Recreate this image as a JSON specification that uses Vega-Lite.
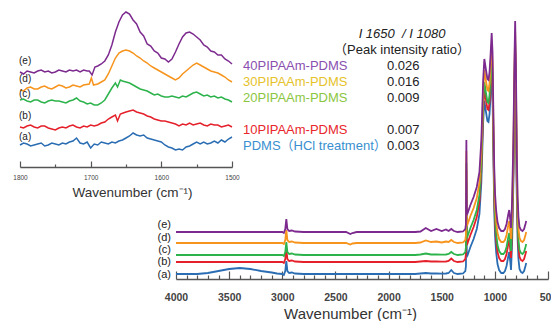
{
"$schema": "https://vega.github.io/schema/vega-lite/v6.json",
"width": 551, "height": 279,
"autosize": "none",
"padding": {"left": 0, "top": 0, "right": 0, "bottom": 42},
"background": "white",
"config": {"view": {"stroke": null}, "text": {"font": "Liberation Sans, Noto Sans CJK JP"}, "axis": {"labelFont": "Liberation Sans", "titleFont": "Liberation Sans", "grid": false}},
"datasets": {
"main": [
{"s":"a","wn":4000,"I":5},{"s":"a","wn":3800,"I":5},{"s":"a","wn":3700,"I":6},{"s":"a","wn":3600,"I":8},{"s":"a","wn":3500,"I":10},{"s":"a","wn":3400,"I":11},{"s":"a","wn":3300,"I":10},{"s":"a","wn":3200,"I":8},{"s":"a","wn":3100,"I":6.5},{"s":"a","wn":3050,"I":5.5},{"s":"a","wn":3000,"I":5},{"s":"a","wn":2985,"I":4},{"s":"a","wn":2972,"I":8},{"s":"a","wn":2962,"I":18},{"s":"a","wn":2952,"I":8},{"s":"a","wn":2935,"I":6},{"s":"a","wn":2910,"I":6.5},{"s":"a","wn":2880,"I":5.5},{"s":"a","wn":2800,"I":5},{"s":"a","wn":2400,"I":5},{"s":"a","wn":2300,"I":5},{"s":"a","wn":1750,"I":5},{"s":"a","wn":1700,"I":5.5},{"s":"a","wn":1650,"I":6},{"s":"a","wn":1600,"I":5.5},{"s":"a","wn":1550,"I":5.5},{"s":"a","wn":1500,"I":5.3},{"s":"a","wn":1460,"I":5.5},{"s":"a","wn":1435,"I":6},{"s":"a","wn":1410,"I":9},{"s":"a","wn":1385,"I":6},{"s":"a","wn":1350,"I":5},{"s":"a","wn":1300,"I":5.5},{"s":"a","wn":1278,"I":8},{"s":"a","wn":1272,"I":13},{"s":"a","wn":1268,"I":97},{"s":"a","wn":1264,"I":27},{"s":"a","wn":1256,"I":24},{"s":"a","wn":1230,"I":32},{"s":"a","wn":1200,"I":40},{"s":"a","wn":1170,"I":50},{"s":"a","wn":1145,"I":65},{"s":"a","wn":1127,"I":97},{"s":"a","wn":1110,"I":157},{"s":"a","wn":1099,"I":178},{"s":"a","wn":1085,"I":168},{"s":"a","wn":1070,"I":158},{"s":"a","wn":1060,"I":157},{"s":"a","wn":1050,"I":165},{"s":"a","wn":1040,"I":183},{"s":"a","wn":1030,"I":204},{"s":"a","wn":1022,"I":185},{"s":"a","wn":1014,"I":125},{"s":"a","wn":1006,"I":70},{"s":"a","wn":998,"I":43},{"s":"a","wn":988,"I":27},{"s":"a","wn":975,"I":15},{"s":"a","wn":960,"I":9},{"s":"a","wn":940,"I":6},{"s":"a","wn":920,"I":6},{"s":"a","wn":905,"I":8},{"s":"a","wn":890,"I":13},{"s":"a","wn":875,"I":22},{"s":"a","wn":865,"I":27},{"s":"a","wn":855,"I":17},{"s":"a","wn":848,"I":9},{"s":"a","wn":838,"I":35},{"s":"a","wn":826,"I":95},{"s":"a","wn":816,"I":175},{"s":"a","wn":809,"I":216},{"s":"a","wn":802,"I":175},{"s":"a","wn":794,"I":85},{"s":"a","wn":786,"I":40},{"s":"a","wn":778,"I":20},{"s":"a","wn":768,"I":10},{"s":"a","wn":755,"I":7},{"s":"a","wn":740,"I":6},{"s":"a","wn":725,"I":8},{"s":"a","wn":712,"I":13},{"s":"a","wn":705,"I":16},
{"s":"b","wn":4000,"I":17},{"s":"b","wn":3500,"I":17},{"s":"b","wn":3000,"I":17},{"s":"b","wn":2985,"I":16},{"s":"b","wn":2972,"I":20},{"s":"b","wn":2962,"I":30},{"s":"b","wn":2952,"I":20},{"s":"b","wn":2935,"I":18},{"s":"b","wn":2910,"I":18.5},{"s":"b","wn":2880,"I":17.5},{"s":"b","wn":2800,"I":17},{"s":"b","wn":2400,"I":17},{"s":"b","wn":2300,"I":17},{"s":"b","wn":1750,"I":17},{"s":"b","wn":1700,"I":17.5},{"s":"b","wn":1650,"I":18},{"s":"b","wn":1600,"I":17.5},{"s":"b","wn":1550,"I":17.5},{"s":"b","wn":1500,"I":17.3},{"s":"b","wn":1460,"I":17.5},{"s":"b","wn":1435,"I":18},{"s":"b","wn":1410,"I":20.5},{"s":"b","wn":1385,"I":18},{"s":"b","wn":1350,"I":17},{"s":"b","wn":1300,"I":17.5},{"s":"b","wn":1278,"I":20},{"s":"b","wn":1272,"I":25},{"s":"b","wn":1268,"I":109},{"s":"b","wn":1264,"I":39},{"s":"b","wn":1256,"I":36},{"s":"b","wn":1230,"I":44},{"s":"b","wn":1200,"I":52},{"s":"b","wn":1170,"I":62},{"s":"b","wn":1145,"I":77},{"s":"b","wn":1127,"I":109},{"s":"b","wn":1110,"I":169},{"s":"b","wn":1099,"I":190},{"s":"b","wn":1085,"I":180},{"s":"b","wn":1070,"I":170},{"s":"b","wn":1060,"I":169},{"s":"b","wn":1050,"I":177},{"s":"b","wn":1040,"I":195},{"s":"b","wn":1030,"I":216},{"s":"b","wn":1022,"I":197},{"s":"b","wn":1014,"I":137},{"s":"b","wn":1006,"I":82},{"s":"b","wn":998,"I":55},{"s":"b","wn":988,"I":39},{"s":"b","wn":975,"I":27},{"s":"b","wn":960,"I":21},{"s":"b","wn":940,"I":18},{"s":"b","wn":920,"I":18},{"s":"b","wn":905,"I":20},{"s":"b","wn":890,"I":25},{"s":"b","wn":875,"I":34},{"s":"b","wn":865,"I":39},{"s":"b","wn":855,"I":29},{"s":"b","wn":848,"I":21},{"s":"b","wn":838,"I":47},{"s":"b","wn":826,"I":107},{"s":"b","wn":816,"I":187},{"s":"b","wn":809,"I":228},{"s":"b","wn":802,"I":187},{"s":"b","wn":794,"I":97},{"s":"b","wn":786,"I":52},{"s":"b","wn":778,"I":32},{"s":"b","wn":768,"I":22},{"s":"b","wn":755,"I":19},{"s":"b","wn":740,"I":18},{"s":"b","wn":725,"I":20},{"s":"b","wn":712,"I":25},{"s":"b","wn":705,"I":28},
{"s":"c","wn":4000,"I":24},{"s":"c","wn":3500,"I":24},{"s":"c","wn":3000,"I":24},{"s":"c","wn":2985,"I":23},{"s":"c","wn":2972,"I":27},{"s":"c","wn":2962,"I":37},{"s":"c","wn":2952,"I":27},{"s":"c","wn":2935,"I":25},{"s":"c","wn":2910,"I":25.5},{"s":"c","wn":2880,"I":24.5},{"s":"c","wn":2800,"I":24},{"s":"c","wn":2400,"I":24},{"s":"c","wn":2300,"I":24},{"s":"c","wn":1750,"I":24},{"s":"c","wn":1700,"I":24.5},{"s":"c","wn":1650,"I":25.5},{"s":"c","wn":1600,"I":24.5},{"s":"c","wn":1550,"I":24.5},{"s":"c","wn":1500,"I":24.3},{"s":"c","wn":1460,"I":24.5},{"s":"c","wn":1435,"I":25},{"s":"c","wn":1410,"I":27},{"s":"c","wn":1385,"I":25},{"s":"c","wn":1350,"I":24},{"s":"c","wn":1300,"I":24.5},{"s":"c","wn":1278,"I":27},{"s":"c","wn":1272,"I":32},{"s":"c","wn":1268,"I":116},{"s":"c","wn":1264,"I":46},{"s":"c","wn":1256,"I":43},{"s":"c","wn":1230,"I":51},{"s":"c","wn":1200,"I":59},{"s":"c","wn":1170,"I":69},{"s":"c","wn":1145,"I":84},{"s":"c","wn":1127,"I":116},{"s":"c","wn":1110,"I":176},{"s":"c","wn":1099,"I":197},{"s":"c","wn":1085,"I":187},{"s":"c","wn":1070,"I":177},{"s":"c","wn":1060,"I":176},{"s":"c","wn":1050,"I":184},{"s":"c","wn":1040,"I":202},{"s":"c","wn":1030,"I":223},{"s":"c","wn":1022,"I":204},{"s":"c","wn":1014,"I":144},{"s":"c","wn":1006,"I":89},{"s":"c","wn":998,"I":62},{"s":"c","wn":988,"I":46},{"s":"c","wn":975,"I":34},{"s":"c","wn":960,"I":28},{"s":"c","wn":940,"I":25},{"s":"c","wn":920,"I":25},{"s":"c","wn":905,"I":27},{"s":"c","wn":890,"I":32},{"s":"c","wn":875,"I":41},{"s":"c","wn":865,"I":46},{"s":"c","wn":855,"I":36},{"s":"c","wn":848,"I":28},{"s":"c","wn":838,"I":54},{"s":"c","wn":826,"I":114},{"s":"c","wn":816,"I":194},{"s":"c","wn":809,"I":235},{"s":"c","wn":802,"I":194},{"s":"c","wn":794,"I":104},{"s":"c","wn":786,"I":59},{"s":"c","wn":778,"I":39},{"s":"c","wn":768,"I":29},{"s":"c","wn":755,"I":26},{"s":"c","wn":740,"I":25},{"s":"c","wn":725,"I":27},{"s":"c","wn":712,"I":32},{"s":"c","wn":705,"I":35},
{"s":"d","wn":4000,"I":36},{"s":"d","wn":3500,"I":36},{"s":"d","wn":3000,"I":36},{"s":"d","wn":2985,"I":35},{"s":"d","wn":2972,"I":39},{"s":"d","wn":2962,"I":49},{"s":"d","wn":2952,"I":39},{"s":"d","wn":2935,"I":37},{"s":"d","wn":2910,"I":37.5},{"s":"d","wn":2880,"I":36.5},{"s":"d","wn":2800,"I":36},{"s":"d","wn":2400,"I":36},{"s":"d","wn":2360,"I":34.5},{"s":"d","wn":2340,"I":35.5},{"s":"d","wn":2300,"I":36},{"s":"d","wn":1750,"I":36},{"s":"d","wn":1700,"I":36.5},{"s":"d","wn":1650,"I":38.5},{"s":"d","wn":1600,"I":37},{"s":"d","wn":1550,"I":37.5},{"s":"d","wn":1500,"I":36.5},{"s":"d","wn":1460,"I":37.5},{"s":"d","wn":1435,"I":37},{"s":"d","wn":1410,"I":39},{"s":"d","wn":1385,"I":37},{"s":"d","wn":1350,"I":36},{"s":"d","wn":1300,"I":36.5},{"s":"d","wn":1278,"I":39},{"s":"d","wn":1272,"I":44},{"s":"d","wn":1268,"I":128},{"s":"d","wn":1264,"I":58},{"s":"d","wn":1256,"I":55},{"s":"d","wn":1230,"I":63},{"s":"d","wn":1200,"I":71},{"s":"d","wn":1170,"I":81},{"s":"d","wn":1145,"I":96},{"s":"d","wn":1127,"I":128},{"s":"d","wn":1110,"I":188},{"s":"d","wn":1099,"I":209},{"s":"d","wn":1085,"I":199},{"s":"d","wn":1070,"I":189},{"s":"d","wn":1060,"I":188},{"s":"d","wn":1050,"I":196},{"s":"d","wn":1040,"I":214},{"s":"d","wn":1030,"I":235},{"s":"d","wn":1022,"I":216},{"s":"d","wn":1014,"I":156},{"s":"d","wn":1006,"I":101},{"s":"d","wn":998,"I":74},{"s":"d","wn":988,"I":58},{"s":"d","wn":975,"I":46},{"s":"d","wn":960,"I":40},{"s":"d","wn":940,"I":37},{"s":"d","wn":920,"I":37},{"s":"d","wn":905,"I":39},{"s":"d","wn":890,"I":44},{"s":"d","wn":875,"I":53},{"s":"d","wn":865,"I":58},{"s":"d","wn":855,"I":48},{"s":"d","wn":848,"I":40},{"s":"d","wn":838,"I":66},{"s":"d","wn":826,"I":126},{"s":"d","wn":816,"I":206},{"s":"d","wn":809,"I":247},{"s":"d","wn":802,"I":206},{"s":"d","wn":794,"I":116},{"s":"d","wn":786,"I":71},{"s":"d","wn":778,"I":51},{"s":"d","wn":768,"I":41},{"s":"d","wn":755,"I":38},{"s":"d","wn":740,"I":37},{"s":"d","wn":725,"I":39},{"s":"d","wn":712,"I":44},{"s":"d","wn":705,"I":47},
{"s":"e","wn":4000,"I":47},{"s":"e","wn":3500,"I":47},{"s":"e","wn":3000,"I":47},{"s":"e","wn":2985,"I":46},{"s":"e","wn":2972,"I":50},{"s":"e","wn":2962,"I":60},{"s":"e","wn":2952,"I":50},{"s":"e","wn":2935,"I":48},{"s":"e","wn":2910,"I":48.5},{"s":"e","wn":2880,"I":47.5},{"s":"e","wn":2800,"I":47},{"s":"e","wn":2400,"I":47},{"s":"e","wn":2360,"I":45},{"s":"e","wn":2340,"I":46},{"s":"e","wn":2300,"I":47},{"s":"e","wn":1750,"I":47},{"s":"e","wn":1700,"I":47.5},{"s":"e","wn":1650,"I":51},{"s":"e","wn":1600,"I":48},{"s":"e","wn":1550,"I":50},{"s":"e","wn":1500,"I":48},{"s":"e","wn":1460,"I":49.5},{"s":"e","wn":1435,"I":48},{"s":"e","wn":1410,"I":50},{"s":"e","wn":1385,"I":48},{"s":"e","wn":1350,"I":47},{"s":"e","wn":1300,"I":47.5},{"s":"e","wn":1278,"I":50},{"s":"e","wn":1272,"I":55},{"s":"e","wn":1268,"I":139},{"s":"e","wn":1264,"I":69},{"s":"e","wn":1256,"I":66},{"s":"e","wn":1230,"I":74},{"s":"e","wn":1200,"I":82},{"s":"e","wn":1170,"I":92},{"s":"e","wn":1145,"I":107},{"s":"e","wn":1127,"I":139},{"s":"e","wn":1110,"I":199},{"s":"e","wn":1099,"I":220},{"s":"e","wn":1085,"I":210},{"s":"e","wn":1070,"I":200},{"s":"e","wn":1060,"I":199},{"s":"e","wn":1050,"I":207},{"s":"e","wn":1040,"I":225},{"s":"e","wn":1030,"I":246},{"s":"e","wn":1022,"I":227},{"s":"e","wn":1014,"I":167},{"s":"e","wn":1006,"I":112},{"s":"e","wn":998,"I":85},{"s":"e","wn":988,"I":69},{"s":"e","wn":975,"I":57},{"s":"e","wn":960,"I":51},{"s":"e","wn":940,"I":48},{"s":"e","wn":920,"I":48},{"s":"e","wn":905,"I":50},{"s":"e","wn":890,"I":55},{"s":"e","wn":875,"I":64},{"s":"e","wn":865,"I":69},{"s":"e","wn":855,"I":59},{"s":"e","wn":848,"I":51},{"s":"e","wn":838,"I":77},{"s":"e","wn":826,"I":137},{"s":"e","wn":816,"I":217},{"s":"e","wn":809,"I":258},{"s":"e","wn":802,"I":217},{"s":"e","wn":794,"I":127},{"s":"e","wn":786,"I":82},{"s":"e","wn":778,"I":62},{"s":"e","wn":768,"I":52},{"s":"e","wn":755,"I":49},{"s":"e","wn":740,"I":48},{"s":"e","wn":725,"I":50},{"s":"e","wn":712,"I":55},{"s":"e","wn":705,"I":58}
],
"mainlab": [
{"s":"e","label":"(e)","wn":4000,"I":54},{"s":"d","label":"(d)","wn":4000,"I":41},{"s":"c","label":"(c)","wn":4000,"I":29},{"s":"b","label":"(b)","wn":4000,"I":17},{"s":"a","label":"(a)","wn":4000,"I":4}
],
"inset": [
{"s":"a","wn":1800,"I":22},{"s":"a","wn":1795,"I":24},{"s":"a","wn":1790,"I":23},{"s":"a","wn":1785,"I":21},{"s":"a","wn":1780,"I":22},{"s":"a","wn":1775,"I":23},{"s":"a","wn":1770,"I":24},{"s":"a","wn":1765,"I":21},{"s":"a","wn":1760,"I":22},{"s":"a","wn":1755,"I":24},{"s":"a","wn":1750,"I":23},{"s":"a","wn":1745,"I":22},{"s":"a","wn":1740,"I":24},{"s":"a","wn":1735,"I":23},{"s":"a","wn":1730,"I":25},{"s":"a","wn":1725,"I":26},{"s":"a","wn":1720,"I":29},{"s":"a","wn":1715,"I":24},{"s":"a","wn":1710,"I":23},{"s":"a","wn":1705,"I":25},{"s":"a","wn":1700,"I":19},{"s":"a","wn":1695,"I":23},{"s":"a","wn":1690,"I":22},{"s":"a","wn":1685,"I":25},{"s":"a","wn":1680,"I":24},{"s":"a","wn":1675,"I":23},{"s":"a","wn":1670,"I":25},{"s":"a","wn":1665,"I":24},{"s":"a","wn":1660,"I":26},{"s":"a","wn":1655,"I":27},{"s":"a","wn":1650,"I":29},{"s":"a","wn":1645,"I":31},{"s":"a","wn":1640,"I":34},{"s":"a","wn":1635,"I":32},{"s":"a","wn":1630,"I":31},{"s":"a","wn":1625,"I":32},{"s":"a","wn":1620,"I":29},{"s":"a","wn":1615,"I":28},{"s":"a","wn":1610,"I":27},{"s":"a","wn":1605,"I":26},{"s":"a","wn":1600,"I":25},{"s":"a","wn":1595,"I":22},{"s":"a","wn":1590,"I":20},{"s":"a","wn":1585,"I":19},{"s":"a","wn":1580,"I":17},{"s":"a","wn":1575,"I":18},{"s":"a","wn":1570,"I":17},{"s":"a","wn":1565,"I":20},{"s":"a","wn":1560,"I":21},{"s":"a","wn":1555,"I":23},{"s":"a","wn":1550,"I":25},{"s":"a","wn":1545,"I":23},{"s":"a","wn":1540,"I":25},{"s":"a","wn":1535,"I":23},{"s":"a","wn":1530,"I":24},{"s":"a","wn":1525,"I":26},{"s":"a","wn":1520,"I":24},{"s":"a","wn":1515,"I":27},{"s":"a","wn":1510,"I":25},{"s":"a","wn":1505,"I":28},{"s":"a","wn":1500,"I":30},
{"s":"b","wn":1800,"I":40},{"s":"b","wn":1795,"I":39},{"s":"b","wn":1790,"I":41},{"s":"b","wn":1785,"I":42},{"s":"b","wn":1780,"I":40},{"s":"b","wn":1775,"I":39},{"s":"b","wn":1770,"I":41},{"s":"b","wn":1765,"I":41},{"s":"b","wn":1760,"I":39},{"s":"b","wn":1755,"I":38},{"s":"b","wn":1750,"I":37},{"s":"b","wn":1745,"I":39},{"s":"b","wn":1740,"I":40},{"s":"b","wn":1735,"I":39},{"s":"b","wn":1730,"I":41},{"s":"b","wn":1725,"I":42},{"s":"b","wn":1720,"I":40},{"s":"b","wn":1715,"I":39},{"s":"b","wn":1710,"I":41},{"s":"b","wn":1705,"I":40},{"s":"b","wn":1700,"I":42},{"s":"b","wn":1695,"I":41},{"s":"b","wn":1690,"I":42},{"s":"b","wn":1685,"I":44},{"s":"b","wn":1680,"I":45},{"s":"b","wn":1675,"I":48},{"s":"b","wn":1670,"I":50},{"s":"b","wn":1665,"I":52},{"s":"b","wn":1662,"I":46},{"s":"b","wn":1658,"I":53},{"s":"b","wn":1654,"I":54},{"s":"b","wn":1650,"I":55},{"s":"b","wn":1645,"I":56},{"s":"b","wn":1640,"I":57},{"s":"b","wn":1635,"I":55},{"s":"b","wn":1630,"I":54},{"s":"b","wn":1625,"I":53},{"s":"b","wn":1620,"I":51},{"s":"b","wn":1615,"I":50},{"s":"b","wn":1610,"I":48},{"s":"b","wn":1605,"I":47},{"s":"b","wn":1600,"I":46},{"s":"b","wn":1595,"I":46},{"s":"b","wn":1590,"I":45},{"s":"b","wn":1585,"I":44},{"s":"b","wn":1580,"I":43},{"s":"b","wn":1575,"I":41},{"s":"b","wn":1570,"I":43},{"s":"b","wn":1565,"I":42},{"s":"b","wn":1560,"I":44},{"s":"b","wn":1555,"I":42},{"s":"b","wn":1550,"I":43},{"s":"b","wn":1545,"I":44},{"s":"b","wn":1540,"I":42},{"s":"b","wn":1535,"I":41},{"s":"b","wn":1530,"I":43},{"s":"b","wn":1525,"I":42},{"s":"b","wn":1520,"I":42},{"s":"b","wn":1515,"I":40},{"s":"b","wn":1510,"I":41},{"s":"b","wn":1505,"I":42},{"s":"b","wn":1500,"I":40},
{"s":"c","wn":1800,"I":67},{"s":"c","wn":1795,"I":68},{"s":"c","wn":1790,"I":66},{"s":"c","wn":1785,"I":65},{"s":"c","wn":1780,"I":67},{"s":"c","wn":1775,"I":67},{"s":"c","wn":1770,"I":65},{"s":"c","wn":1765,"I":64},{"s":"c","wn":1760,"I":66},{"s":"c","wn":1755,"I":67},{"s":"c","wn":1750,"I":66},{"s":"c","wn":1745,"I":66},{"s":"c","wn":1740,"I":65},{"s":"c","wn":1735,"I":64},{"s":"c","wn":1730,"I":66},{"s":"c","wn":1725,"I":67},{"s":"c","wn":1720,"I":69},{"s":"c","wn":1715,"I":66},{"s":"c","wn":1710,"I":65},{"s":"c","wn":1705,"I":63},{"s":"c","wn":1700,"I":64},{"s":"c","wn":1695,"I":62},{"s":"c","wn":1690,"I":62},{"s":"c","wn":1685,"I":64},{"s":"c","wn":1680,"I":67},{"s":"c","wn":1675,"I":73},{"s":"c","wn":1670,"I":79},{"s":"c","wn":1665,"I":84},{"s":"c","wn":1662,"I":80},{"s":"c","wn":1658,"I":87},{"s":"c","wn":1655,"I":86},{"s":"c","wn":1650,"I":85},{"s":"c","wn":1645,"I":84},{"s":"c","wn":1640,"I":82},{"s":"c","wn":1635,"I":80},{"s":"c","wn":1630,"I":78},{"s":"c","wn":1625,"I":77},{"s":"c","wn":1620,"I":76},{"s":"c","wn":1615,"I":74},{"s":"c","wn":1610,"I":72},{"s":"c","wn":1605,"I":73},{"s":"c","wn":1600,"I":71},{"s":"c","wn":1595,"I":70},{"s":"c","wn":1590,"I":70},{"s":"c","wn":1585,"I":71},{"s":"c","wn":1580,"I":70},{"s":"c","wn":1575,"I":69},{"s":"c","wn":1570,"I":71},{"s":"c","wn":1565,"I":70},{"s":"c","wn":1560,"I":72},{"s":"c","wn":1555,"I":74},{"s":"c","wn":1550,"I":75},{"s":"c","wn":1545,"I":73},{"s":"c","wn":1540,"I":71},{"s":"c","wn":1535,"I":72},{"s":"c","wn":1530,"I":70},{"s":"c","wn":1525,"I":71},{"s":"c","wn":1520,"I":69},{"s":"c","wn":1515,"I":70},{"s":"c","wn":1510,"I":68},{"s":"c","wn":1505,"I":67},{"s":"c","wn":1500,"I":65},
{"s":"d","wn":1800,"I":77},{"s":"d","wn":1795,"I":76},{"s":"d","wn":1790,"I":79},{"s":"d","wn":1785,"I":80},{"s":"d","wn":1780,"I":78},{"s":"d","wn":1775,"I":78},{"s":"d","wn":1770,"I":80},{"s":"d","wn":1765,"I":81},{"s":"d","wn":1760,"I":79},{"s":"d","wn":1755,"I":78},{"s":"d","wn":1750,"I":80},{"s":"d","wn":1745,"I":82},{"s":"d","wn":1740,"I":81},{"s":"d","wn":1735,"I":79},{"s":"d","wn":1730,"I":80},{"s":"d","wn":1725,"I":82},{"s":"d","wn":1720,"I":81},{"s":"d","wn":1715,"I":80},{"s":"d","wn":1710,"I":82},{"s":"d","wn":1702,"I":83},{"s":"d","wn":1699,"I":89},{"s":"d","wn":1696,"I":82},{"s":"d","wn":1690,"I":83},{"s":"d","wn":1685,"I":85},{"s":"d","wn":1680,"I":87},{"s":"d","wn":1675,"I":93},{"s":"d","wn":1670,"I":101},{"s":"d","wn":1665,"I":109},{"s":"d","wn":1660,"I":114},{"s":"d","wn":1655,"I":116},{"s":"d","wn":1650,"I":117},{"s":"d","wn":1645,"I":116},{"s":"d","wn":1640,"I":114},{"s":"d","wn":1635,"I":111},{"s":"d","wn":1630,"I":109},{"s":"d","wn":1625,"I":106},{"s":"d","wn":1620,"I":104},{"s":"d","wn":1615,"I":101},{"s":"d","wn":1610,"I":99},{"s":"d","wn":1605,"I":97},{"s":"d","wn":1600,"I":95},{"s":"d","wn":1595,"I":93},{"s":"d","wn":1590,"I":91},{"s":"d","wn":1585,"I":89},{"s":"d","wn":1580,"I":87},{"s":"d","wn":1575,"I":89},{"s":"d","wn":1570,"I":93},{"s":"d","wn":1565,"I":96},{"s":"d","wn":1560,"I":99},{"s":"d","wn":1555,"I":102},{"s":"d","wn":1550,"I":104},{"s":"d","wn":1545,"I":102},{"s":"d","wn":1540,"I":100},{"s":"d","wn":1535,"I":98},{"s":"d","wn":1530,"I":96},{"s":"d","wn":1525,"I":95},{"s":"d","wn":1520,"I":94},{"s":"d","wn":1515,"I":92},{"s":"d","wn":1510,"I":90},{"s":"d","wn":1505,"I":87},{"s":"d","wn":1500,"I":85},
{"s":"e","wn":1800,"I":95},{"s":"e","wn":1795,"I":93},{"s":"e","wn":1790,"I":96},{"s":"e","wn":1785,"I":95},{"s":"e","wn":1780,"I":94},{"s":"e","wn":1775,"I":96},{"s":"e","wn":1770,"I":97},{"s":"e","wn":1765,"I":95},{"s":"e","wn":1760,"I":96},{"s":"e","wn":1755,"I":94},{"s":"e","wn":1750,"I":95},{"s":"e","wn":1745,"I":97},{"s":"e","wn":1740,"I":96},{"s":"e","wn":1735,"I":95},{"s":"e","wn":1730,"I":97},{"s":"e","wn":1725,"I":96},{"s":"e","wn":1720,"I":97},{"s":"e","wn":1715,"I":95},{"s":"e","wn":1710,"I":97},{"s":"e","wn":1705,"I":96},{"s":"e","wn":1702,"I":96},{"s":"e","wn":1698,"I":92},{"s":"e","wn":1694,"I":100},{"s":"e","wn":1690,"I":101},{"s":"e","wn":1685,"I":103},{"s":"e","wn":1680,"I":106},{"s":"e","wn":1675,"I":112},{"s":"e","wn":1670,"I":122},{"s":"e","wn":1665,"I":135},{"s":"e","wn":1660,"I":145},{"s":"e","wn":1655,"I":152},{"s":"e","wn":1650,"I":155},{"s":"e","wn":1645,"I":153},{"s":"e","wn":1640,"I":147},{"s":"e","wn":1635,"I":143},{"s":"e","wn":1630,"I":135},{"s":"e","wn":1625,"I":131},{"s":"e","wn":1620,"I":123},{"s":"e","wn":1615,"I":121},{"s":"e","wn":1610,"I":116},{"s":"e","wn":1605,"I":114},{"s":"e","wn":1600,"I":109},{"s":"e","wn":1595,"I":108},{"s":"e","wn":1590,"I":105},{"s":"e","wn":1585,"I":108},{"s":"e","wn":1580,"I":115},{"s":"e","wn":1575,"I":123},{"s":"e","wn":1570,"I":130},{"s":"e","wn":1565,"I":134},{"s":"e","wn":1560,"I":135},{"s":"e","wn":1555,"I":133},{"s":"e","wn":1550,"I":130},{"s":"e","wn":1545,"I":127},{"s":"e","wn":1540,"I":122},{"s":"e","wn":1535,"I":120},{"s":"e","wn":1530,"I":116},{"s":"e","wn":1525,"I":115},{"s":"e","wn":1520,"I":112},{"s":"e","wn":1515,"I":112},{"s":"e","wn":1510,"I":108},{"s":"e","wn":1505,"I":106},{"s":"e","wn":1500,"I":103}
],
"insetlab": [
{"s":"e","label":"(e)","wn":1800,"I":106},{"s":"d","label":"(d)","wn":1800,"I":88},{"s":"c","label":"(c)","wn":1800,"I":73},{"s":"b","label":"(b)","wn":1800,"I":51},{"s":"a","label":"(a)","wn":1800,"I":30}
],
"legend": [
{"s":"e","name":"40PIPAAm-PDMS","ratio":"0.026","row":2},
{"s":"d","name":"30PIPAAm-PDMS","ratio":"0.016","row":3},
{"s":"c","name":"20PIPAAm-PDMS","ratio":"0.009","row":4},
{"s":"b","name":"10PIPAAm-PDMS","ratio":"0.007","row":6},
{"s":"a","name":"PDMS（HCl treatment）","ratio":"0.003","row":7}
],
"header": [
{"h":"I 1650\u00a0\u00a0/ I 1080","row":0},
{"h":"（Peak intensity ratio）","row":1}
]
},
"resolve": {"scale": {"x": "independent", "y": "independent"}},
"layer": [
{
 "resolve": {"axis": {"x": "independent"}},
 "layer": [
  {"data": {"name": "main"},
   "mark": {"type": "line", "strokeWidth": 1.8},
   "encoding": {
    "x": {"field": "wn", "type": "quantitative",
      "scale": {"domain": [4000, 500], "range": [176, 548], "nice": false, "zero": false},
      "axis": {"orient": "bottom", "format": "d",
        "values": [4000,3500,3000,2500,2000,1500,1000,500],
        "tickSize": -8,
        "tickColor": "#555", "tickWidth": 1.2, "domainColor": "#555", "domainWidth": 1.5,
        "labelFontSize": 10.5, "labelFontWeight": "bold", "labelColor": "#444", "labelPadding": 26, "labelBaseline": "middle",
        "labelFlush": false, "labelOverlap": false, "labelBound": false,
        "title": "Wavenumber (cm⁻¹)", "titleFontSize": 15, "titleFontWeight": "normal", "titleColor": "#333",
        "titleX": 350, "titleY": 34, "titleBaseline": "middle"}},
    "y": {"field": "I", "type": "quantitative", "scale": {"domain": [0, 279], "range": [279, 0], "nice": false, "zero": false}, "axis": null},
    "color": {"field": "s", "type": "nominal", "scale": {"domain": ["a","b","c","d","e"], "range": ["#2a6db3","#e5202a","#2db34b","#f7941d","#7d2a8f"]}, "legend": null}
   }},
  {"data": {"name": "mainlab"},
   "mark": {"type": "text", "align": "right", "baseline": "middle", "dx": -5, "fontSize": 11, "color": "#222"},
   "encoding": {
    "x": {"field": "wn", "type": "quantitative",
      "axis": {"orient": "bottom", "values": [3900,3800,3700,3600,3400,3300,3200,3100,2900,2800,2700,2600,2400,2300,2200,2100,1900,1800,1700,1600,1400,1300,1200,1100,900,800,700,600],
        "labels": false, "domain": false, "tickSize": -4, "tickColor": "#555", "tickWidth": 1.2, "title": null}},
    "y": {"field": "I", "type": "quantitative", "axis": null},
    "text": {"field": "label"}
   }}
 ]
},
{
 "resolve": {"axis": {"x": "independent"}},
 "layer": [
  {"data": {"name": "inset"},
   "mark": {"type": "line", "strokeWidth": 1.5},
   "encoding": {
    "x": {"field": "wn", "type": "quantitative",
      "scale": {"domain": [1800, 1500], "range": [20, 232], "nice": false, "zero": false},
      "axis": {"orient": "bottom", "offset": -112, "format": "d",
        "values": [1800,1700,1600,1500],
        "tickSize": -6,
        "tickColor": "#555", "tickWidth": 1.2, "domainColor": "#555", "domainWidth": 1.5,
        "labelFontSize": 6.5, "labelColor": "#444", "labelPadding": 16, "labelBaseline": "middle",
        "labelFlush": false, "labelOverlap": false, "labelBound": false,
        "title": "Wavenumber (cm⁻¹)", "titleFontSize": 13.5, "titleFontWeight": "normal", "titleColor": "#333",
        "titleX": 132, "titleY": 25, "titleBaseline": "middle"}},
    "y": {"field": "I", "type": "quantitative", "scale": {"domain": [0, 167], "range": [167, 0], "nice": false, "zero": false}, "axis": null},
    "color": {"field": "s", "type": "nominal", "scale": {"domain": ["a","b","c","d","e"], "range": ["#2a6db3","#e5202a","#2db34b","#f7941d","#7d2a8f"]}, "legend": null}
   }},
  {"data": {"name": "insetlab"},
   "mark": {"type": "text", "align": "left", "baseline": "middle", "dx": -1, "fontSize": 10, "color": "#222"},
   "encoding": {
    "x": {"field": "wn", "type": "quantitative",
      "axis": {"orient": "bottom", "offset": -112, "values": [1750,1650,1550], "labels": false, "domain": false, "tickSize": -3, "tickColor": "#555", "tickWidth": 1.2, "title": null}},
    "y": {"field": "I", "type": "quantitative", "axis": null},
    "text": {"field": "label"}
   }}
 ]
},
{
 "layer": [
  {"data": {"name": "legend"},
   "mark": {"type": "text", "align": "left", "baseline": "middle", "fontSize": 13},
   "encoding": {
    "x": {"datum": 0, "type": "quantitative", "scale": {"domain": [0, 1], "range": [243, 387], "nice": false, "zero": false}, "axis": null},
    "y": {"field": "row", "type": "quantitative", "scale": {"domain": [0, 7], "range": [34, 146], "nice": false, "zero": false}, "axis": null},
    "text": {"field": "name"},
    "fill": {"field": "s", "type": "nominal", "scale": {"domain": ["a","b","c","d","e"], "range": ["#3a8fd0","#e8262b","#8cc63f","#e6c22a","#8a4fb0"]}, "legend": null}
   }},
  {"data": {"name": "legend"},
   "mark": {"type": "text", "align": "left", "baseline": "middle", "fontSize": 13, "color": "#222"},
   "encoding": {
    "x": {"datum": 1, "type": "quantitative", "axis": null},
    "y": {"field": "row", "type": "quantitative", "axis": null},
    "text": {"field": "ratio"}
   }},
  {"data": {"name": "header"},
   "transform": [{"filter": "datum.row == 0"}],
   "mark": {"type": "text", "align": "center", "baseline": "middle", "dx": 15, "fontSize": 13, "fontStyle": "italic", "color": "#222"},
   "encoding": {
    "x": {"datum": 1, "type": "quantitative", "axis": null},
    "y": {"field": "row", "type": "quantitative", "axis": null},
    "text": {"field": "h"}
   }},
  {"data": {"name": "header"},
   "transform": [{"filter": "datum.row == 1"}],
   "mark": {"type": "text", "align": "center", "baseline": "middle", "dx": 15, "fontSize": 13, "color": "#222"},
   "encoding": {
    "x": {"datum": 1, "type": "quantitative", "axis": null},
    "y": {"field": "row", "type": "quantitative", "axis": null},
    "text": {"field": "h"}
   }}
 ]
}
]
}
